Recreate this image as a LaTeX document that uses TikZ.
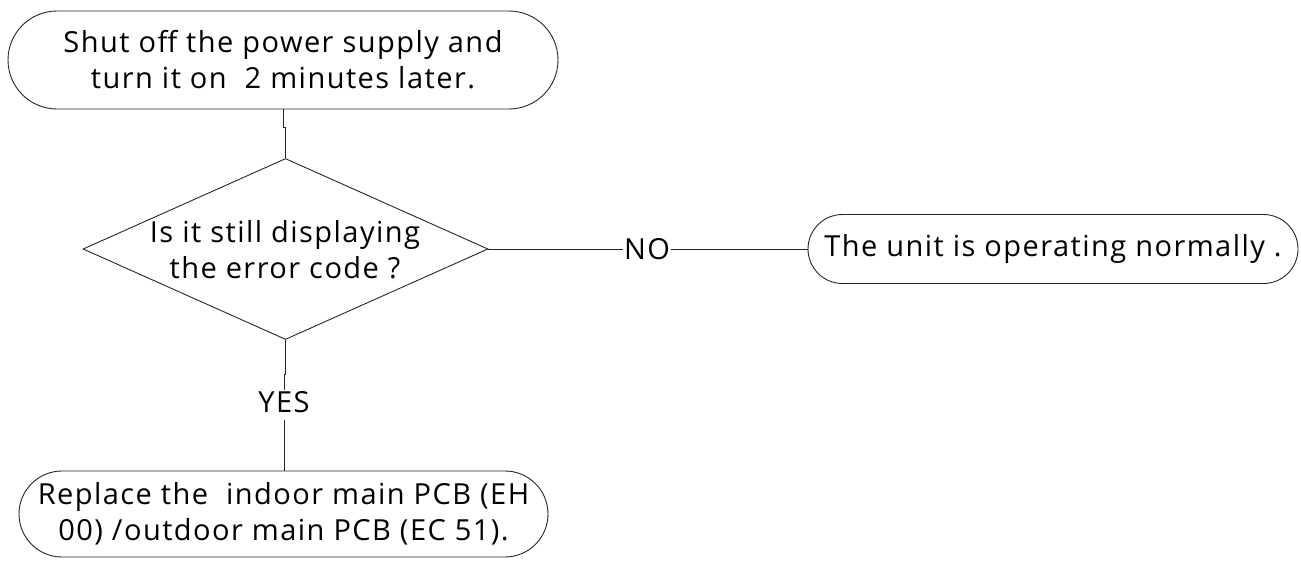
\documentclass[tikz,border=0pt]{standalone}
\usepackage{fontspec}
\setmainfont[LetterSpace=5]{Open Sans}
\usetikzlibrary{shapes.geometric}
\begin{document}
\begin{tikzpicture}[x=1pt,y=-1pt,
  line/.style={draw=black!85, line width=0.9pt},
  txt/.style={font=\fontsize{29}{36}\selectfont, align=center},
  term/.style={line, txt, inner sep=0pt},
  lbl/.style={txt, inner sep=1pt}]
\useasboundingbox (0,0) rectangle (1301,560);

% terminal boxes (stadium shapes)
\node[term, rounded corners=49pt, minimum width=550pt, minimum height=98pt]
  (start) at (283,60) {Shut off the power supply and\\ turn it on\ \ 2 minutes later.};
\node[term, rounded corners=34.5pt, minimum width=490pt, minimum height=69pt]
  (ok) at (1053,249) {The unit is operating normally .};
\node[term, rounded corners=43pt, minimum width=529pt, minimum height=86pt]
  (repl) at (283.5,514) {Replace the\ \ indoor main PCB (EH\\ 00) /outdoor main PCB (EC\ 51).};

% decision
\node[diamond, line, inner sep=0pt, minimum width=405pt, minimum height=181pt]
  (dia) at (285.5,249) {};
\node[txt] (q) at (285,250) {Is it still displaying\\ the error code ?};

% branch labels
\node[lbl] (no) at (647,249) {NO};
\node[lbl, anchor=north, text depth=7pt] (yes) at (284,390) {YES};

% connectors
\draw[line] (start.south) -- ++(0,18) -| (dia.north);
\draw[line] (dia.east) -- (no.west);
\draw[line] (no.east) -- (ok.west);
\draw[line] (dia.south) -- ++(0,34) -| (yes.north);
\draw[line] (yes.south) -- (yes.south |- repl.north);
\end{tikzpicture}
\end{document}
